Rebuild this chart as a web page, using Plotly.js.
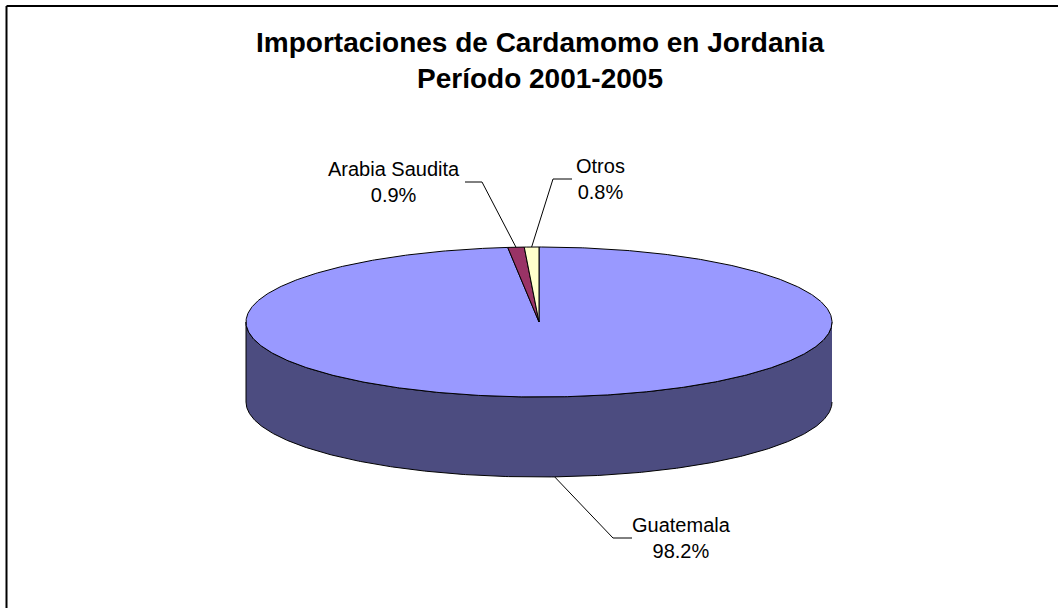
<!DOCTYPE html>
<html>
<head>
<meta charset="utf-8">
<script src="https://cdn.plot.ly/plotly-3.0.1.min.js"></script>
<style>html,body{margin:0;padding:0;background:#fff;}#chart{width:1058px;height:608px;}</style>
</head>
<body>
<div id="chart"></div>
<script>
// ---- data ----
const categories = ['Guatemala', 'Arabia Saudita', 'Otros'];
const shares = [98.2, 0.9, 0.8];          // percent of imports 2001-2005
const chartTitle = 'Importaciones de Cardamomo en Jordania<br>Período 2001-2005';

// ---- styles ----
const topColors  = ['#9999FF', '#993366', '#FFFFCC'];
const sideColors = ['#4C4C80', '#4D1A33', '#808066'];
const FONT = 'Liberation Sans, Arial, sans-serif';

// ---- geometry (pixel space) ----
const W = 1058, H = 608;
const cx = 539, cy = 322, rx = 293, ry = 75, depth = 80;
// label placement: centre of label, elbow of leader, end of leader
const labelLayout = [
  {x: 681, y: 538, elbowX: 613, endX: 632},
  {x: 394, y: 182, elbowX: 482, endX: 465},
  {x: 600, y: 179, elbowX: 553, endX: 572}
];

const total = shares.reduce((a, b) => a + b, 0);
const rad = d => d * Math.PI / 180;
const topPt = t => [cx + rx * Math.sin(rad(t)), cy - ry * Math.cos(rad(t))];
const botPt = t => [cx + rx * Math.sin(rad(t)), cy + depth - ry * Math.cos(rad(t))];

function arc(fn, a, b) {
  const n = Math.max(2, Math.ceil(Math.abs(b - a) / 0.5));
  const xs = [], ys = [];
  for (let k = 0; k <= n; k++) {
    const p = fn(a + (b - a) * k / n);
    xs.push(p[0]); ys.push(p[1]);
  }
  return [xs, ys];
}

// slice angle ranges, clockwise from 12 o'clock
const ranges = [];
let acc = 0;
shares.forEach(v => {
  const a0 = acc / total * 360;
  acc += v;
  ranges.push([a0, acc / total * 360]);
});

const traces = [];
// side walls (front half only, 90..270 deg)
ranges.forEach((r, i) => {
  const s = Math.max(r[0], 90), e = Math.min(r[1], 270);
  if (e <= s) return;
  const t = arc(topPt, s, e), b = arc(botPt, e, s);
  traces.push({
    type: 'scatter', mode: 'lines', fill: 'toself',
    x: t[0].concat(b[0]), y: t[1].concat(b[1]),
    fillcolor: sideColors[i], line: {color: '#000', width: 1},
    hoverinfo: 'skip', showlegend: false
  });
});
// top faces
ranges.forEach((r, i) => {
  const t = arc(topPt, r[0], r[1]);
  traces.push({
    type: 'scatter', mode: 'lines', fill: 'toself',
    x: [cx].concat(t[0], [cx]), y: [cy].concat(t[1], [cy]),
    fillcolor: topColors[i], line: {color: '#000', width: 1},
    name: categories[i], hoverinfo: 'skip', showlegend: false
  });
});
// leader lines and labels
const annotations = [];
ranges.forEach((r, i) => {
  const m = (r[0] + r[1]) / 2;
  const p = Math.cos(rad(m)) > 0 ? topPt(m) : botPt(m);
  const L = labelLayout[i];
  traces.push({
    type: 'scatter', mode: 'lines',
    x: [p[0], L.elbowX, L.endX], y: [p[1], L.y, L.y],
    line: {color: '#000', width: 1}, hoverinfo: 'skip', showlegend: false
  });
  annotations.push({
    xref: 'x', yref: 'y', x: L.x, y: L.y, xanchor: 'center', yanchor: 'middle',
    showarrow: false, text: categories[i] + '<br>' + shares[i].toFixed(1) + '%',
    font: {family: FONT, size: 20, color: '#000'}
  });
});

const layout = {
  width: W, height: H,
  margin: {l: 0, r: 0, t: 0, b: 0},
  paper_bgcolor: '#fff', plot_bgcolor: '#fff',
  title: {
    text: chartTitle,
    font: {family: FONT, size: 28, color: '#000', weight: 700},
    xref: 'container', yref: 'container', x: 540 / W, xanchor: 'center',
    y: 1 - 52 / H, yanchor: 'top'
  },
  xaxis: {range: [0, W], visible: false, fixedrange: true},
  yaxis: {range: [H, 0], visible: false, fixedrange: true},
  annotations: annotations,
  shapes: [
    {type: 'line', xref: 'x', yref: 'y', x0: 6.5, y0: 6, x1: W + 5, y1: 6, line: {color: '#000', width: 2}},
    {type: 'line', xref: 'x', yref: 'y', x0: 6.5, y0: 6, x1: 6.5, y1: H + 5, line: {color: '#000', width: 2}}
  ],
  showlegend: false
};

Plotly.newPlot('chart', traces, layout, {displayModeBar: false, staticPlot: true});
</script>
</body>
</html>
